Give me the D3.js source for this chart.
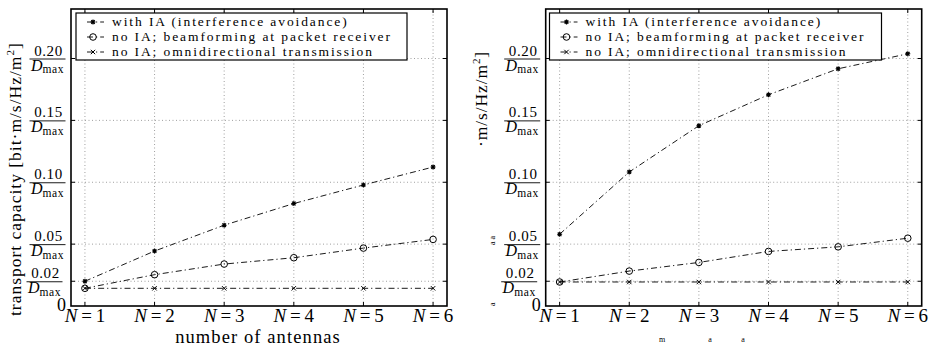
<!DOCTYPE html>
<html><head><meta charset="utf-8">
<script src="https://cdn.jsdelivr.net/npm/d3@7"></script>
<style>
body{margin:0;background:#fff;}
svg text{font-family:"Liberation Serif","Times New Roman",serif;fill:#000;}
</style></head>
<body><svg id="c" width="941" height="353"></svg>
<script>
// ---------------- data ----------------
const antennas = [1, 2, 3, 4, 5, 6];
const xTickLabels = ["1", "2", "3", "4", "5", "6"];
const yTicks = [0.02, 0.05, 0.10, 0.15, 0.20];
const yTickLabels = ["0.02", "0.05", "0.10", "0.15", "0.20"];
const seriesNames = [
  "with IA (interference avoidance)",
  "no IA; beamforming at packet receiver",
  "no IA; omnidirectional transmission"
];
const leftIA   = [0.0200, 0.0444, 0.0653, 0.0828, 0.0978, 0.1123];
const leftBF   = [0.0143, 0.0253, 0.0339, 0.0390, 0.0468, 0.0538];
const leftOmni = [0.0143, 0.0143, 0.0143, 0.0143, 0.0143, 0.0143];
const rightIA   = [0.0580, 0.1083, 0.1457, 0.1707, 0.1917, 0.2038];
const rightBF   = [0.0194, 0.0282, 0.0352, 0.0441, 0.0478, 0.0548];
const rightOmni = [0.0194, 0.0194, 0.0194, 0.0194, 0.0194, 0.0194];

// ---------------- drawing ----------------
const svg = d3.select("#c");
const markers = ["star", "circle", "cross"];

function drawMarker(g, type, x, y) {
  if (type === "star") {
    const r = 2.5;
    const p = d3.path();
    p.moveTo(x - r, y); p.lineTo(x + r, y);
    p.moveTo(x, y - r); p.lineTo(x, y + r);
    p.moveTo(x - r*0.72, y - r*0.72); p.lineTo(x + r*0.72, y + r*0.72);
    p.moveTo(x - r*0.72, y + r*0.72); p.lineTo(x + r*0.72, y - r*0.72);
    g.append("path").attr("d", p.toString()).attr("stroke", "#000").attr("stroke-width", 1.1);
    g.append("circle").attr("cx", x).attr("cy", y).attr("r", 1.4).attr("fill", "#000");
  } else if (type === "circle") {
    g.append("circle").attr("cx", x).attr("cy", y).attr("r", 3.3)
      .attr("fill", "none").attr("stroke", "#000").attr("stroke-width", 1);
  } else {
    const r = 2.2;
    const p = d3.path();
    p.moveTo(x - r, y - r); p.lineTo(x + r, y + r);
    p.moveTo(x - r, y + r); p.lineTo(x + r, y - r);
    g.append("path").attr("d", p.toString()).attr("stroke", "#000").attr("stroke-width", 1);
  }
}

function panel(opt) {
  const x = d3.scaleLinear().domain([0.8, 6.2]).range([opt.left, opt.right]);
  const y = d3.scaleLinear().domain([0, 0.24]).range([306, 9]);
  const g = svg.append("g");

  // grid
  antennas.forEach(a => {
    g.append("line").attr("x1", x(a)).attr("x2", x(a)).attr("y1", y(0)).attr("y2", y(0.24))
      .attr("stroke", "#888").attr("stroke-width", 0.8).attr("stroke-dasharray", "1,2.5");
  });
  yTicks.forEach(t => {
    g.append("line").attr("x1", x(0.8)).attr("x2", x(6.2)).attr("y1", y(t)).attr("y2", y(t))
      .attr("stroke", "#888").attr("stroke-width", 0.8).attr("stroke-dasharray", "1,2.5");
  });

  // ticks inward
  const tl = 4;
  antennas.forEach(a => {
    g.append("line").attr("x1", x(a)).attr("x2", x(a)).attr("y1", y(0)).attr("y2", y(0) - tl).attr("stroke", "#000");
    g.append("line").attr("x1", x(a)).attr("x2", x(a)).attr("y1", y(0.24)).attr("y2", y(0.24) + tl).attr("stroke", "#000");
  });
  yTicks.forEach(t => {
    g.append("line").attr("x1", x(0.8)).attr("x2", x(0.8) + tl).attr("y1", y(t)).attr("y2", y(t)).attr("stroke", "#000");
    g.append("line").attr("x1", x(6.2)).attr("x2", x(6.2) - tl).attr("y1", y(t)).attr("y2", y(t)).attr("stroke", "#000");
  });

  // box
  g.append("rect").attr("x", x(0.8)).attr("y", y(0.24)).attr("width", x(6.2) - x(0.8)).attr("height", y(0) - y(0.24))
    .attr("fill", "none").attr("stroke", "#000").attr("stroke-width", 1.6);

  // series
  const line = d3.line().x((d, i) => x(antennas[i])).y(d => y(d));
  opt.series.forEach((s, k) => {
    g.append("path").attr("d", line(s)).attr("fill", "none").attr("stroke", "#000")
      .attr("stroke-width", 0.9).attr("stroke-dasharray", "6,3,1.2,3");
    s.forEach((v, i) => drawMarker(g, markers[k], x(antennas[i]), y(v)));
  });

  // y tick labels (fractions)
  yTicks.forEach((t, i) => {
    const yy = y(t);
    const shift = (t === 0.02) ? -3 : 0;
    const barR = x(0.8) - 5.5 + shift, barL = barR - 36;
    const cx = (barL + barR) / 2;
    g.append("line").attr("x1", barL).attr("x2", barR).attr("y1", yy + 0.5).attr("y2", yy + 0.5)
      .attr("stroke", "#000").attr("stroke-width", 0.9);
    g.append("text").attr("x", cx + 1).attr("y", yy - 3).attr("text-anchor", "middle")
      .attr("font-size", 15).attr("letter-spacing", 0.6).text(yTickLabels[i]);
    const dt = g.append("text").attr("x", cx).attr("y", yy + 12).attr("text-anchor", "middle").attr("font-size", 16);
    dt.append("tspan").attr("font-style", "italic").text("D");
    dt.append("tspan").attr("font-size", 11.5).attr("letter-spacing", 0.6).attr("dy", 2.5).text("max");
  });
  g.append("text").attr("x", x(0.8) - 5).attr("y", y(0) + 5).attr("text-anchor", "end")
    .attr("font-size", 18).text("0");

  // x tick labels
  antennas.forEach((a, i) => {
    const t = g.append("text").attr("x", x(a)).attr("y", 322).attr("text-anchor", "middle").attr("font-size", 19);
    t.append("tspan").attr("font-style", "italic").text("N");
    t.append("tspan").text("\u2009=\u2009" + xTickLabels[i]);
  });

  // legend
  const lx = opt.legend[0], lw = opt.legend[1];
  g.append("rect").attr("x", lx).attr("y", 13).attr("width", lw).attr("height", 47)
    .attr("fill", "#fff").attr("stroke", "#000").attr("stroke-width", 1.2);
  seriesNames.forEach((n, k) => {
    const ly = 22 + k * 15;
    g.append("line").attr("x1", lx + 8).attr("x2", lx + 28).attr("y1", ly).attr("y2", ly)
      .attr("stroke", "#000").attr("stroke-width", 0.9).attr("stroke-dasharray", "6,3,1.2,3").attr("stroke-dashoffset", -3);
    drawMarker(g, markers[k], lx + 17, ly);
    g.append("text").attr("x", lx + 36).attr("y", ly + 4.3).attr("font-size", 13.5)
      .attr("letter-spacing", 1.9).text(n);
  });
  return g;
}

panel({left: 71, right: 447, legend: [76, 331], series: [leftIA, leftBF, leftOmni]});
panel({left: 545.7, right: 921.7, legend: [549.5, 332], series: [rightIA, rightBF, rightOmni]});

// axis labels
svg.append("text").attr("x", 258).attr("y", 343).attr("text-anchor", "middle").attr("font-size", 18.5)
  .attr("letter-spacing", 1.1).text("number of antennas");
const yl = svg.append("text").attr("transform", "translate(21,316) rotate(-90)").attr("font-size", 17.5)
  .attr("letter-spacing", 1.0);
yl.append("tspan").text("transport capacity  [bit\u00b7m/s/Hz/m");
yl.append("tspan").attr("font-size", 11).attr("dy", -7).text("2");
yl.append("tspan").attr("dy", 7).text("]");

const yr = svg.append("text").attr("transform", "translate(487,147) rotate(-90)").attr("font-size", 17.5)
  .attr("letter-spacing", 0.9);
yr.append("tspan").text("\u00b7m/s/Hz/m");
yr.append("tspan").attr("font-size", 11).attr("dy", -7).text("2");
yr.append("tspan").attr("dy", 7).text("]");

// stray glyphs in the right panel
svg.append("text").attr("transform", "translate(495,245) rotate(-90)").attr("font-size", 8).text("a a");
svg.append("text").attr("transform", "translate(495,306) rotate(-90)").attr("font-size", 8).text("a");
[["m", 662], ["a", 710], ["a", 743]].forEach(d => {
  svg.append("text").attr("x", d[1]).attr("y", 342).attr("text-anchor", "middle").attr("font-size", 8).text(d[0]);
});
</script></body></html>
